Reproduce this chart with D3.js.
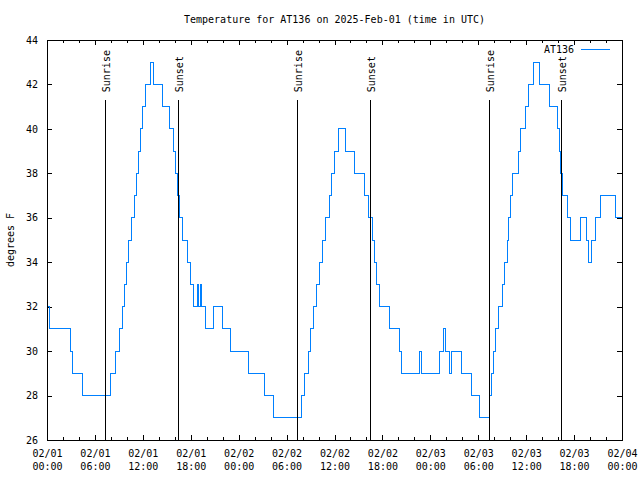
<!DOCTYPE html>
<html><head><meta charset="utf-8">
<script src="https://cdn.jsdelivr.net/npm/d3@7/dist/d3.min.js"></script>
<style>
body{margin:0;background:#fff}
text{font-family:"DejaVu Sans Mono","Liberation Mono",monospace;font-size:10px;fill:#000}
</style>
</head><body>
<svg id="c" width="640" height="480"></svg>
<script>
const chartTitle = "Temperature for AT136 on 2025-Feb-01 (time in UTC)";
const seriesName = "AT136";
const yLabel = "degrees F";
const startUTC = Date.UTC(2025, 1, 1, 0, 0);
const spanHours = 72;

// hours after 02/01 00:00 UTC at which the reading changes, and the new reading (deg F)
const changeHours = [0, 0.3, 2.9, 3.15, 4.4, 7.95, 8.55, 9.1, 9.5, 9.75, 10.0, 10.25, 10.55, 10.9, 11.2, 11.5, 11.75, 12.0, 12.3, 12.95, 13.35, 14.4,
  15.3, 15.85, 16.1, 16.35, 16.65, 16.95, 17.6, 17.95, 18.4, 18.85, 18.95, 19.25, 19.35, 19.9, 20.9, 21.95, 22.95, 25.2, 27.2, 28.3,
  31.85, 32.25, 32.7, 33.05, 33.4, 33.75, 34.1, 34.45, 34.9, 35.4, 35.65, 35.95, 36.55, 37.4, 38.5, 39.7, 40.3, 40.8, 41.0, 41.3, 41.6,
  42.85, 44.15, 44.4, 46.65, 46.9, 49.1, 49.7, 49.95, 50.45, 50.7, 51.95, 53.15, 54.15,
  55.45, 55.7, 55.95, 56.2, 56.5, 57.0, 57.3, 57.6, 57.85, 58.05, 58.3, 59.1, 59.35, 59.95, 60.3, 60.95, 61.65, 62.95, 63.95,
  64.2, 64.35, 64.6, 65.2, 65.6, 66.75, 67.5, 67.85, 68.2, 68.7, 69.3, 71.15, 72];
const changeTemps = [32, 31, 30, 29, 28, 29, 30, 31, 32, 33, 34, 35, 36, 37, 38, 39, 40, 41, 42, 43, 42, 41,
  40, 39, 38, 37, 36, 35, 34, 33, 32, 33, 32, 33, 32, 31, 32, 31, 30, 29, 28, 27,
  28, 29, 30, 31, 32, 33, 34, 35, 36, 37, 38, 39, 40, 39, 38, 37, 36, 35, 34, 33, 32,
  31, 30, 29, 30, 29, 30, 31, 30, 29, 30, 29, 28, 27,
  28, 29, 30, 31, 32, 33, 34, 35, 36, 37, 38, 39, 40, 41, 42, 43, 42, 41, 40,
  39, 38, 37, 36, 35, 36, 35, 34, 35, 36, 37, 36, 36];

const sunriseHours = [7.27, 31.28, 55.3];
const sunsetHours = [16.4, 40.42, 64.38];
const yTicks = [26, 28, 30, 32, 34, 36, 38, 40, 42, 44];

const toDate = h => new Date(startUTC + h * 3600000);
const L = 47, R = 622, T = 40, B = 440;
const svg = d3.select("#c");

const x = d3.scaleUtc().domain([toDate(0), toDate(spanHours)]).range([L, R]);
const y = d3.scaleLinear().domain([26, 44]).range([B, T]);

const majorX = d3.range(0, spanHours + 1, 6).map(toDate);
const minorX = d3.range(0, spanHours + 1, 2).filter(h => h % 6 !== 0).map(toDate);
const fmtDay = d3.utcFormat("%m/%d"), fmtTime = d3.utcFormat("%H:%M");

// bottom major axis with two-line labels
const gb = svg.append("g").attr("transform", `translate(0,${B})`)
  .call(d3.axisBottom(x).tickValues(majorX).tickSizeInner(-5).tickSizeOuter(0).tickPadding(0)
    .tickFormat(d => fmtDay(d) + "|" + fmtTime(d)));
gb.select(".domain").remove();
gb.selectAll(".tick text").each(function () {
  const parts = d3.select(this).text().split("|");
  const t = d3.select(this).text(null).attr("dy", null).attr("y", 0);
  t.append("tspan").attr("x", 0).attr("y", 17).text(parts[0]);
  t.append("tspan").attr("x", 0).attr("y", 30).text(parts[1]);
});
svg.append("g").attr("transform", `translate(0,${B})`)
  .call(d3.axisBottom(x).tickValues(minorX).tickSizeInner(-3).tickSizeOuter(0).tickFormat(""))
  .call(g => g.select(".domain").remove());
// top mirror ticks
svg.append("g").attr("transform", `translate(0,${T})`)
  .call(d3.axisTop(x).tickValues(majorX).tickSizeInner(-5).tickSizeOuter(0).tickFormat(""))
  .call(g => g.select(".domain").remove());
svg.append("g").attr("transform", `translate(0,${T})`)
  .call(d3.axisTop(x).tickValues(minorX).tickSizeInner(-3).tickSizeOuter(0).tickFormat(""))
  .call(g => g.select(".domain").remove());
// left axis
const gl = svg.append("g").attr("transform", `translate(${L},0)`)
  .call(d3.axisLeft(y).tickValues(yTicks).tickSizeInner(-5).tickSizeOuter(0).tickPadding(9).tickFormat(d3.format("d")));
gl.select(".domain").remove();
// right mirror ticks
svg.append("g").attr("transform", `translate(${R},0)`)
  .call(d3.axisRight(y).tickValues(yTicks).tickSizeInner(-5).tickSizeOuter(0).tickFormat(""))
  .call(g => g.select(".domain").remove());
svg.selectAll(".tick line").attr("stroke", "#000").attr("shape-rendering", "crispEdges");
svg.selectAll("g").attr("font-family", null).attr("font-size", null);

// series
const pts = changeHours.map((h, i) => [toDate(h), changeTemps[i]]);
const line = d3.line().x(d => x(d[0])).y(d => y(d[1])).curve(d3.curveStepAfter);
svg.append("path").datum(pts).attr("d", line)
  .attr("fill", "none").attr("stroke", "#0080ff").attr("stroke-width", 1)
  .attr("shape-rendering", "crispEdges");

// sunrise / sunset markers
const markers = sunriseHours.map(h => ({h, label: "Sunrise"}))
  .concat(sunsetHours.map(h => ({h, label: "Sunset"})));
const lineTop = 41.3, labelBase = 41.65;
markers.forEach(m => {
  const xx = Math.round(x(toDate(m.h))) + 0.5;
  svg.append("line").attr("x1", xx).attr("x2", xx).attr("y1", y(26)).attr("y2", y(lineTop))
    .attr("stroke", "#000").attr("stroke-width", 1);
  svg.append("text").attr("transform", `translate(${xx + 4.5},${y(labelBase)}) rotate(-90)`)
    .attr("text-anchor", "start").text(m.label);
});

// frame
svg.append("rect").attr("x", L + 0.5).attr("y", T + 0.5).attr("width", R - L).attr("height", B - T)
  .attr("fill", "none").attr("stroke", "#000").attr("stroke-width", 1);

// title & labels
svg.append("text").attr("x", (L + R) / 2).attr("y", 23).attr("text-anchor", "middle").text(chartTitle);
svg.append("text").attr("transform", `translate(14,${(T + B) / 2}) rotate(-90)`)
  .attr("text-anchor", "middle").text(yLabel);

// legend
svg.append("text").attr("x", 574).attr("y", 53).attr("text-anchor", "end").text(seriesName);
svg.append("line").attr("x1", 581).attr("x2", 610).attr("y1", 49.5).attr("y2", 49.5)
  .attr("stroke", "#0080ff").attr("stroke-width", 1);
</script>
</body></html>
